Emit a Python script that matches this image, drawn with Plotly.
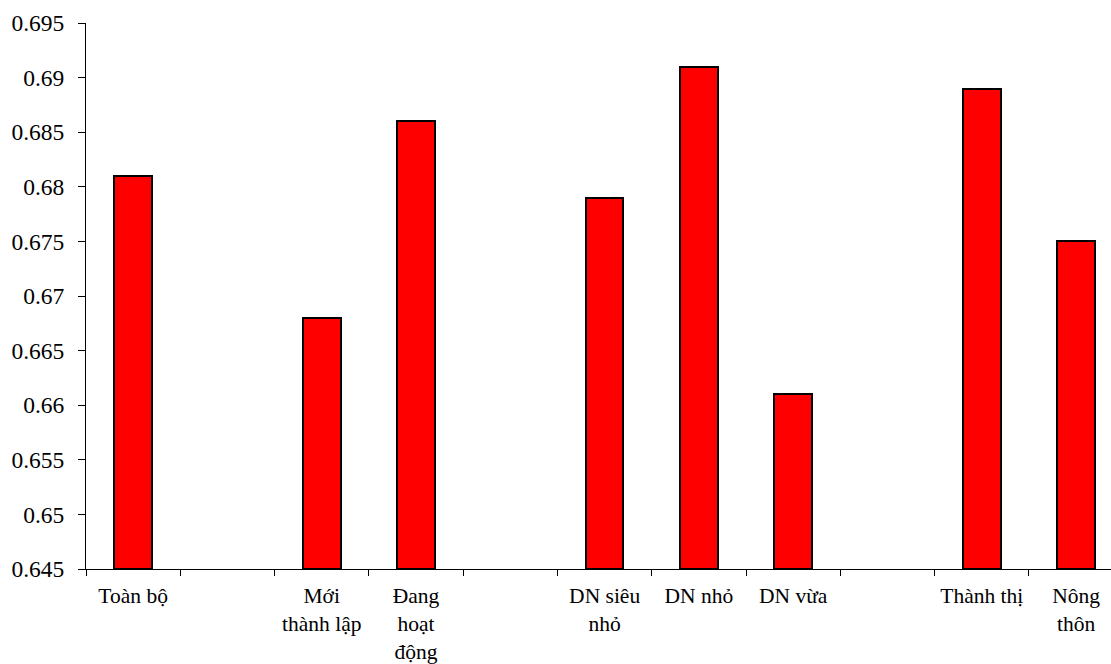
import plotly.graph_objects as go

# Category labels (blank slots separate the groups)
categories = ["Toàn bộ", " ", "Mới<br>thành lập", "Đang<br>hoạt<br>động", "  ",
              "DN siêu<br>nhỏ", "DN nhỏ", "DN vừa", "   ", "Thành thị", "Nông<br>thôn"]
values = [0.681, None, 0.668, 0.686, None, 0.679, 0.691, 0.661, None, 0.689, 0.675]

y_ticks = [0.645, 0.65, 0.655, 0.66, 0.665, 0.67, 0.675, 0.68, 0.685, 0.69, 0.695]
y_tick_text = ["0.645", "0.65", "0.655", "0.66", "0.665", "0.67", "0.675", "0.68", "0.685", "0.69", "0.695"]

base = 0.645
fig = go.Figure(go.Bar(
    x=categories,
    y=[None if v is None else v - base for v in values],
    base=base,
    marker=dict(color="#FF0000", line=dict(color="black", width=2)),
    width=0.4,
))

serif = "Liberation Serif"
x_font = dict(family=serif, size=21.5, color="black")
y_font = dict(family=serif, size=23.5, color="black")

fig.update_layout(
    width=1111, height=664,
    margin=dict(l=86, r=0, t=23, b=95),
    paper_bgcolor="white", plot_bgcolor="white",
    showlegend=False,
    font=x_font,
    bargap=0,
)
fig.update_xaxes(
    type="category",
    range=[-0.5, 10.37],
    automargin=False,
    showline=True, linecolor="black", linewidth=1,
    ticks="outside", tickson="boundaries", ticklen=6, tickcolor="black",
    showgrid=False, tickfont=x_font,
    ticklabelstandoff=7,
)
fig.update_yaxes(
    range=[0.645, 0.695],
    automargin=False,
    tickvals=y_ticks, ticktext=y_tick_text,
    showline=True, linecolor="black", linewidth=1,
    ticks="outside", ticklen=7, tickcolor="black",
    showgrid=False, zeroline=False, tickfont=y_font,
    ticklabelstandoff=9,
)

fig.write_html("out.html")
